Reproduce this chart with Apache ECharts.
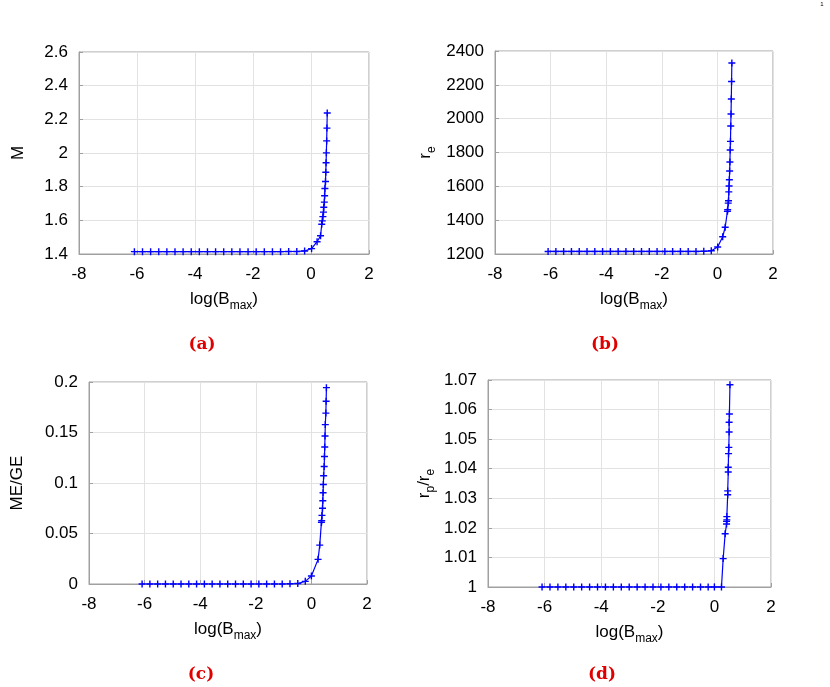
<!DOCTYPE html>
<html>
<head>
<meta charset="utf-8">
<script src="https://cdn.jsdelivr.net/npm/echarts@6/dist/echarts.min.js"></script>
<style>
html, body { margin: 0; padding: 0; background: #fff; }
#chart { width: 830px; height: 687px; }
</style>
</head>
<body>
<div id="chart"></div>
<script>
// x values shared by the flat part of every panel
const flatLogB = [-6.09, -5.81, -5.53, -5.25, -4.97, -4.69, -4.41, -4.13, -3.85, -3.57, -3.29,
  -3.01, -2.73, -2.45, -2.17, -1.89, -1.61, -1.33, -1.05, -0.77, -0.49, -0.22];

// (a) M
const M_flat = [1.414, 1.414, 1.414, 1.414, 1.414, 1.414, 1.414, 1.414, 1.414, 1.414, 1.414,
  1.414, 1.414, 1.414, 1.414, 1.414, 1.414, 1.414, 1.414, 1.415, 1.415, 1.418];
const riseLogB_a = [0.02, 0.21, 0.33, 0.37, 0.39, 0.41, 0.43, 0.44, 0.46, 0.47, 0.48, 0.50, 0.51, 0.52, 0.53, 0.54, 0.55, 0.56];
const M_rise = [1.432, 1.473, 1.508, 1.577, 1.597, 1.622, 1.649, 1.678, 1.708, 1.746, 1.789, 1.831, 1.886, 1.942, 2.001, 2.072, 2.148, 2.238];

// (b) r_e
const re_flat = [1215, 1215, 1215, 1215, 1215, 1215, 1215, 1215, 1215, 1215, 1215,
  1215, 1215, 1215, 1215, 1215, 1215, 1215, 1215, 1215, 1216, 1219];
const riseLogB_b = [0.01, 0.19, 0.28, 0.36, 0.37, 0.39, 0.40, 0.41, 0.42, 0.43, 0.44, 0.45, 0.46, 0.47, 0.48, 0.49, 0.50, 0.51, 0.52];
const re_rise = [1241, 1302, 1358, 1452, 1462, 1501, 1515, 1567, 1602, 1639, 1691, 1744, 1815, 1866, 1957, 2028, 2116, 2220, 2329];

// (c) ME/GE
const meGe_flat = [0, 0, 0, 0, 0, 0, 0, 0, 0, 0, 0, 0, 0, 0, 0, 0, 0, 0, 0, 0.0002, 0.0005, 0.0026];
const riseLogB_c = [0.00, 0.24, 0.30, 0.36, 0.37, 0.38, 0.40, 0.41, 0.42, 0.43, 0.44, 0.46, 0.47, 0.48, 0.49, 0.50, 0.52, 0.53, 0.54];
const meGe_rise = [0.0079, 0.0244, 0.0385, 0.0610, 0.0626, 0.0679, 0.0750, 0.0825, 0.0903, 0.0985, 0.1072,
  0.1163, 0.1262, 0.1357, 0.1466, 0.1578, 0.1692, 0.1809, 0.1944];

// (d) r_p/r_e
const rpRe_flat = [1, 1, 1, 1, 1, 1, 1, 1, 1, 1, 1, 1, 1, 1, 1, 1, 1, 1, 1, 1, 1, 1];
const riseLogB_d = [0.00, 0.25, 0.31, 0.38, 0.43, 0.43, 0.44, 0.44, 0.47, 0.47, 0.49, 0.49, 0.50, 0.51, 0.52, 0.52, 0.53, 0.55];
const rpRe_rise = [1, 1, 1.0096, 1.0180, 1.0213, 1.0222, 1.0227, 1.0238, 1.0312, 1.0325, 1.0389, 1.0405,
  1.0451, 1.0472, 1.0524, 1.0557, 1.0585, 1.0684];

// axis ranges / ticks
const xTicks = { min: -8, max: 2, interval: 2 };
const yTicks = [
  { min: 1.4, max: 2.6, interval: 0.2 },
  { min: 1200, max: 2400, interval: 200 },
  { min: 0, max: 0.2, interval: 0.05 },
  { min: 1, max: 1.07, interval: 0.01 }
];
const yNames = ['{n|M}', '{n|r}{s|e}', '{n|ME/GE}', '{n|r}{s|p}{n|/r}{s|e}'];
const panelLabels = ['(a)', '(b)', '(c)', '(d)'];

function zip(xs, ys) {
  return xs.map((x, i) => [x, ys[i]]);
}
const seriesData = [
  zip(flatLogB.concat(riseLogB_a), M_flat.concat(M_rise)),
  zip(flatLogB.concat(riseLogB_b), re_flat.concat(re_rise)),
  zip(flatLogB.concat(riseLogB_c), meGe_flat.concat(meGe_rise)),
  zip(flatLogB.concat(riseLogB_d), rpRe_flat.concat(rpRe_rise))
];

const grids = [
  { left: 79, top: 52, width: 290, height: 202 },
  { left: 495, top: 51, width: 278, height: 203 },
  { left: 89, top: 382, width: 278, height: 202 },
  { left: 488, top: 380, width: 283, height: 207 }
];
const yNameGaps = [49, 58, 60, 52];
const labelPos = [[202, 345], [605, 345], [201, 675], [602, 675]];

const FONT = '"Liberation Sans", Arial, sans-serif';
const rich = {
  n: { fontFamily: FONT, fontSize: 17, color: '#000', lineHeight: 20, verticalAlign: 'top' },
  s: { fontFamily: FONT, fontSize: 12, color: '#000', lineHeight: 12, verticalAlign: 'top', padding: [9, 0, 0, 0] }
};
const plus = 'path://M4,0H6V4H10V6H6V10H4V6H0V4H4Z';

const myChart = echarts.init(document.getElementById('chart'));
myChart.setOption({
  animation: false,
  grid: grids.map(g => Object.assign({ show: true, borderColor: '#a0a0a0', borderWidth: 1 }, g)),
  xAxis: grids.map((g, i) => ({
    type: 'value',
    gridIndex: i,
    min: xTicks.min, max: xTicks.max, interval: xTicks.interval,
    name: '{n|log(B}{s|max}{n|)}',
    nameLocation: 'middle',
    nameGap: 37,
    nameTextStyle: { rich: rich },
    axisLine: { onZero: false, lineStyle: { color: '#a0a0a0' } },
    axisTick: { inside: true, length: 4, lineStyle: { color: '#a0a0a0' } },
    axisLabel: { fontFamily: FONT, fontSize: 17, color: '#000', margin: 12 },
    splitLine: { lineStyle: { color: '#e2e2e2', width: 1 } }
  })),
  yAxis: grids.map((g, i) => ({
    type: 'value',
    gridIndex: i,
    min: yTicks[i].min, max: yTicks[i].max, interval: yTicks[i].interval,
    name: yNames[i],
    nameLocation: 'middle',
    nameGap: yNameGaps[i],
    nameTextStyle: { rich: rich },
    axisLine: { onZero: false, lineStyle: { color: '#a0a0a0' } },
    axisTick: { inside: true, length: 4, lineStyle: { color: '#a0a0a0' } },
    axisLabel: {
      fontFamily: FONT, fontSize: 17, color: '#000', margin: 11,
      formatter: v => String(+v.toFixed(4))
    },
    splitLine: { lineStyle: { color: '#e2e2e2', width: 1 } }
  })),
  series: seriesData.map((d, i) => ({
    type: 'line',
    xAxisIndex: i,
    yAxisIndex: i,
    data: d,
    symbol: plus,
    symbolSize: 7,
    showAllSymbol: true,
    lineStyle: { color: '#0000ff', width: 1.2 },
    itemStyle: { color: '#0000ff' }
  })),
  graphic: panelLabels.map((t, i) => ({
    type: 'text',
    x: labelPos[i][0],
    y: labelPos[i][1],
    style: {
      text: t,
      font: 'bold 17px "DejaVu Serif", serif',
      fill: '#e00000',
      textAlign: 'center',
      textVerticalAlign: 'middle'
    }
  })).concat([{
    type: 'text', x: 822, y: 4,
    style: { text: '1', font: '6px "Liberation Sans", sans-serif', fill: '#000', textAlign: 'center', textVerticalAlign: 'middle' }
  }])
});
</script>
</body>
</html>
